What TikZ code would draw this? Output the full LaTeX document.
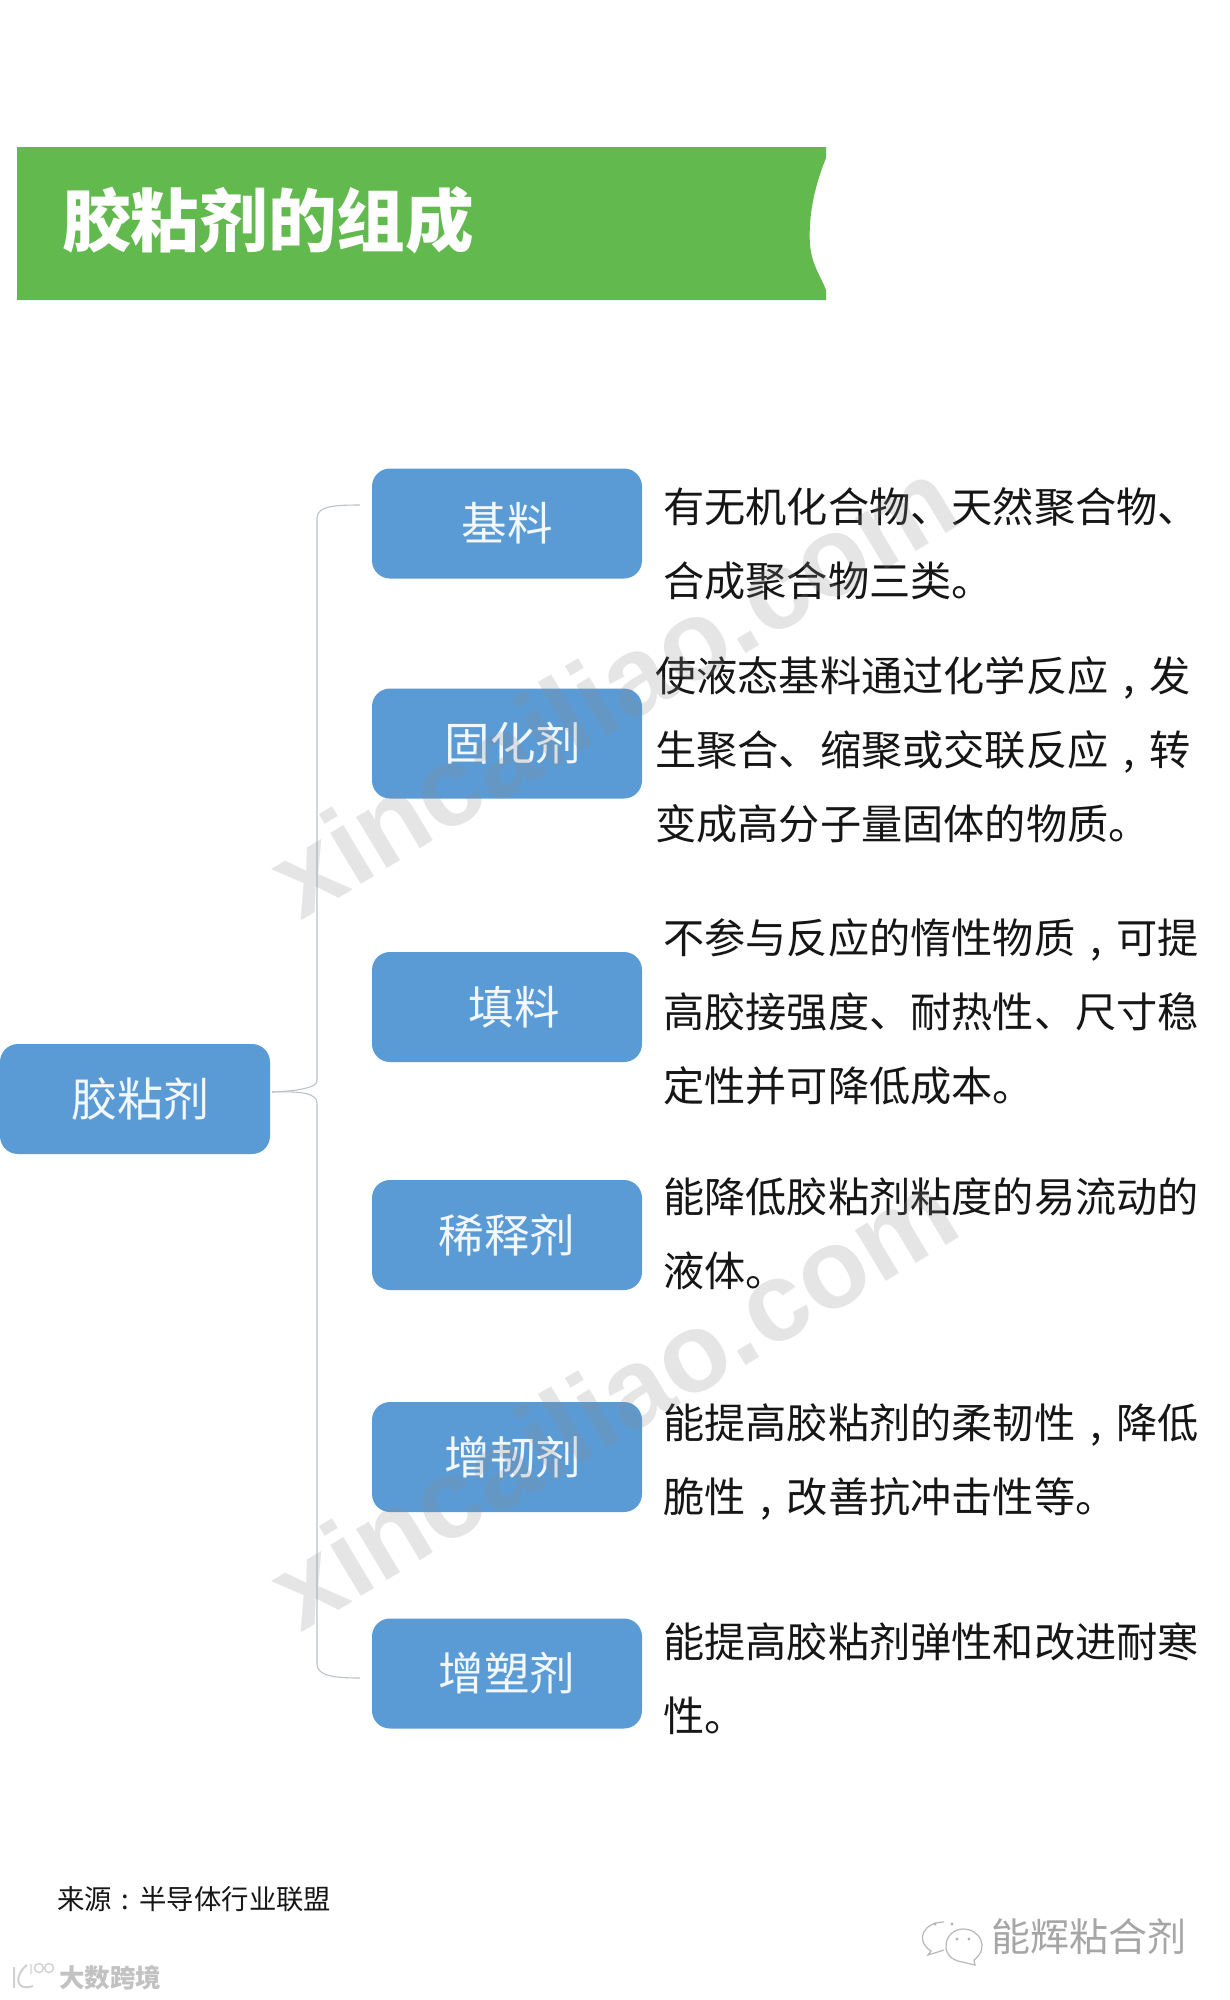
\documentclass[tikz,border=0pt]{standalone}
\usepackage{fontspec}
\setmainfont{Noto Sans CJK SC}
\newfontfamily\wmfont{Liberation Sans}
\newcommand{\cm}{\makebox[1em][c]{,}}
\definecolor{titlegreen}{HTML}{62B94D}
\definecolor{boxblue}{HTML}{5B9BD5}
\definecolor{brace}{HTML}{BCC3C8}
\definecolor{inkblack}{HTML}{161616}
\tikzset{
  x=1pt,y=-1pt,
  boxnode/.style={fill=boxblue,rounded corners=18pt,minimum width=270pt,minimum height=110pt,inner sep=0pt,text=white!92!boxblue,font=\fontsize{45.5}{50}\selectfont},
  bodytext/.style={anchor=base west,inner sep=0pt,text=inkblack,font=\fontsize{41.2}{50}\selectfont},
  wmark/.style={rotate=31,inner sep=0pt,text=black!45,text opacity=.22,font=\wmfont\bfseries\fontsize{112.5}{120}\selectfont},
  grayline/.style={draw=brace,line width=1.1pt},
  logoline/.style={draw=black!28,line width=1.2pt},
  logolight/.style={draw=black!18,line width=2pt}
}
\begin{document}
\begin{tikzpicture}
\useasboundingbox (0,0) rectangle (1229,2000);
\fill[white] (0,0) rectangle (1229,2000);
% title band
\fill[titlegreen] (17,147) -- (826,147) -- (826,158) .. controls (815,185) and (808,215) .. (810,245) .. controls (812,265) and (820,275) .. (826,290) -- (826,300) -- (17,300) -- cycle;
\node[anchor=base west,inner sep=0pt,text=white,font=\bfseries\fontsize{68.6}{70}\selectfont] (title) at (62,246) {胶粘剂的组成};
% boxes
\node[boxnode,font=\fontsize{46}{50}\selectfont] (root) at (135,1099) {\hspace*{11pt}胶粘剂};
\node[boxnode] (b1) at (507,523.5) {基料};
\node[boxnode] (b2) at (507,743.5) {\hspace*{12pt}固化剂};
\node[boxnode] (b3) at (507,1007) {\hspace*{14pt}填料};
\node[boxnode] (b4) at (507,1235) {稀释剂};
\node[boxnode] (b5) at (507,1457) {\hspace*{12pt}增韧剂};
\node[boxnode] (b6) at (507,1673.5) {增塑剂};
% bracket
\coordinate (bt) at (360,505);
\coordinate (bb) at (360,1678);
\coordinate (rj) at ([xshift=2pt,yshift=7pt]root.east);
\draw[grayline] (bt) .. controls (335,505) and (317,506) .. (317,518) -- (317,1081) .. controls (317,1087) and (300,1091) .. (rj);
\draw[grayline] (rj) .. controls (300,1091) and (317,1093) .. (317,1103) -- (317,1664) .. controls (317,1676) and (335,1678) .. (bb);
% body text
\node[bodytext] (a1) at (663,522) {有无机化合物、天然聚合物、};
\node[bodytext] (a2) at (663,596) {合成聚合物三类。};
\node[bodytext] (c1) at (655,691) {使液态基料通过化学反应\cm 发};
\node[bodytext] (c2) at (655,765) {生聚合、缩聚或交联反应\cm 转};
\node[bodytext] (c3) at (655,839) {变成高分子量固体的物质。};
\node[bodytext] (d1) at (663,953) {不参与反应的惰性物质\cm 可提};
\node[bodytext] (d2) at (663,1027) {高胶接强度、耐热性、尺寸稳};
\node[bodytext] (d3) at (663,1101) {定性并可降低成本。};
\node[bodytext] (e1) at (663,1212) {能降低胶粘剂粘度的易流动的};
\node[bodytext] (e2) at (663,1286) {液体。};
\node[bodytext] (f1) at (663,1438) {能提高胶粘剂的柔韧性\cm 降低};
\node[bodytext] (f2) at (663,1512) {脆性\cm 改善抗冲击性等。};
\node[bodytext] (g1) at (663,1657) {能提高胶粘剂弹性和改进耐寒};
\node[bodytext] (g2) at (663,1731) {性。};
% watermarks
\node[wmark] (w1) at (612,687) {xincailiao.com};
\node[wmark] (w2) at (612,1399) {xincailiao.com};
% footer
\node[anchor=base west,inner sep=0pt,text=inkblack,font=\fontsize{27.4}{30}\selectfont] (src) at (57,1909) {来源\makebox[1em][c]{:}半导体行业联盟};
\node[anchor=base west,inner sep=0pt,text=black!35,font=\fontsize{39}{42}\selectfont] (wx) at (991,1951) {能辉粘合剂};
\node[anchor=base west,inner sep=0pt,text=black!24,font=\bfseries\fontsize{25.5}{28}\selectfont] (dj) at (59,1987) {大数跨境};
% WeChat logo
\draw[logoline] (944,1922) .. controls (924,1922) and (914,1940) .. (931,1951) -- (928,1955) -- (944,1950);
\draw[logoline] (963,1929) .. controls (945,1929) and (938,1955) .. (958,1961) -- (975,1965) -- (974,1960) .. controls (990,1948) and (980,1929) .. (963,1929);
\fill[black!30] (935,1924) circle[radius=1.6pt] (952,1924) circle[radius=1.6pt] (957,1939) circle[radius=1.6pt] (969,1939) circle[radius=1.6pt];
% corner logo
\draw[logolight] (14,1967) -- (14,1988) (27,1965) .. controls (14,1975) and (15,1992) .. (33,1986);
\draw[logolight,line width=1.4pt] (31,1964) -- (31,1974) (39,1968) circle[radius=4.5pt] (49,1968) circle[radius=4.5pt];
\end{tikzpicture}
\end{document}
